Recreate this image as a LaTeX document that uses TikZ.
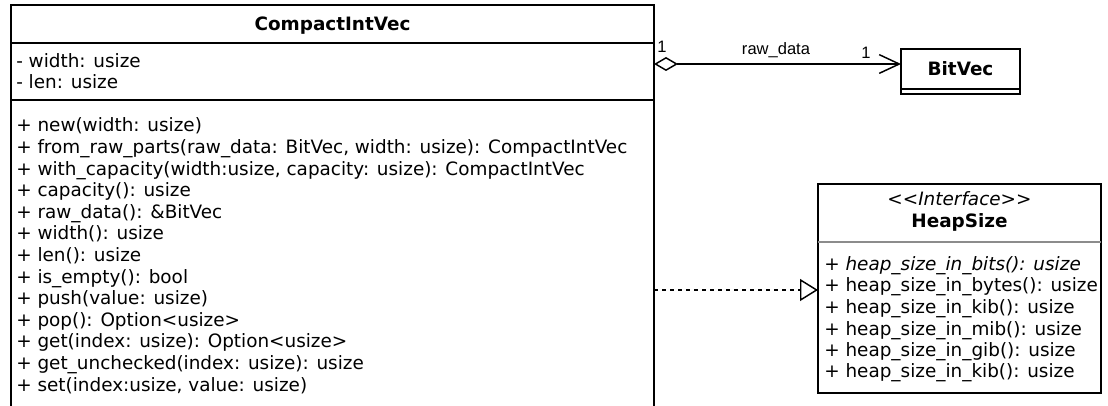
\documentclass[tikz,border=0pt]{standalone}
\usepackage{fontspec}
\setmainfont{DejaVu Sans}
\newfontfamily\relfont{Liberation Sans}
\usetikzlibrary{arrows.meta}

\tikzset{
  classbox/.style={draw=black, line width=1.1pt, fill=white, inner sep=0pt, outer sep=0pt, anchor=north west},
  member/.style={font=\fontsize{13.8}{16}\selectfont, inner sep=0pt, anchor=base west},
  abstractmember/.style={member, font=\fontsize{13.8}{16}\selectfont\itshape},
  classname/.style={font=\fontsize{13.8}{16}\selectfont\bfseries, inner sep=0pt, anchor=base},
  stereo/.style={font=\fontsize{13.8}{16}\selectfont\itshape, inner sep=0pt, anchor=base},
  sepline/.style={line width=1.1pt, draw=black},
  lightsep/.style={line width=1.1pt, draw=black!45},
  rellabel/.style={font=\relfont\fontsize{12.4}{14}\selectfont, inner sep=0pt, anchor=base west},
  aggregation/.style={line width=1.1pt, {Diamond[open,length=18pt,width=10.5pt]}-{Straight Barb[length=15pt,width=14pt]}},
  realization/.style={line width=1.1pt, dash pattern=on 3pt off 3pt, -{Triangle[open,length=13.5pt,width=16.5pt]}},
}

\begin{document}
\begin{tikzpicture}[x=0.75pt, y=-0.75pt]
\useasboundingbox (0,0) rectangle (1108,406);
\clip (0,0) rectangle (1108,406);
\fill[white] (0,0) rectangle (1108,406);

% CompactIntVec class (runs on past the lower edge)
\node[classbox, minimum width=482.25pt, minimum height=315pt] (civ) at (11,5) {};
\draw[sepline] (civ.west |- 0,43) -- (civ.east |- 0,43);
\draw[sepline] (civ.west |- 0,100) -- (civ.east |- 0,100);
\node[classname] (civname) at (civ.north |- 0,30.5) {CompactIntVec};
\node[member] (civa1) at (16,67.5) {- width: usize};
\node[member] (civa2) at (16,89) {- len: usize};
\foreach \t [count=\i] in {
  {+ new(width: usize)},
  {+ from\_raw\_parts(raw\_data: BitVec, width: usize): CompactIntVec},
  {+ with\_capacity(width:usize, capacity: usize): CompactIntVec},
  {+ capacity(): usize},
  {+ raw\_data(): \&BitVec},
  {+ width(): usize},
  {+ len(): usize},
  {+ is\_empty(): bool},
  {+ push(value: usize)},
  {+ pop(): Option<usize>},
  {+ get(index: usize): Option<usize>},
  {+ get\_unchecked(index: usize): usize},
  {+ set(index:usize, value: usize)}}
  \node[member] (civm\i) at (16,110.3+21.6*\i) {\t};

% BitVec class
\node[classbox, minimum width=89.25pt, minimum height=33.75pt] (bitvec) at (901,49) {};
\draw[sepline] (bitvec.west |- 0,89) -- (bitvec.east |- 0,89);
\node[classname] (bitvecname) at (bitvec.north |- 0,76) {BitVec};

% HeapSize interface
\node[classbox, minimum width=212.25pt, minimum height=156.75pt] (heap) at (818,184) {};
\draw[lightsep] (heap.west |- 0,242) -- (heap.east |- 0,242);
\node[stereo] (heapst) at (heap.north |- 0,206) {<\kern0pt<Interface>\kern0pt>};
\node[classname] (heapname) at (heap.north |- 0,227.5) {HeapSize};
\node[abstractmember] (heapm1) at (824,270.5) {+ heap\_size\_in\_bits(): usize};
\foreach \t [count=\i from 2] in {
  {+ heap\_size\_in\_bytes(): usize},
  {+ heap\_size\_in\_kib(): usize},
  {+ heap\_size\_in\_mib(): usize},
  {+ heap\_size\_in\_gib(): usize},
  {+ heap\_size\_in\_kib(): usize}}
  \node[member] (heapm\i) at (824,249+21.5*\i) {\t};

% relations
\draw[aggregation] (civ.east |- 0,64) -- (bitvec.west |- 0,64);
\node[rellabel] (multa) at (657,52.7) {1};
\node[rellabel, anchor=base] (role) at (776,55) {raw\_data};
\node[rellabel] (multb) at (861,59) {1};
\draw[realization] (civ.east |- 0,290) -- (heap.west |- 0,290);
\end{tikzpicture}
\end{document}
